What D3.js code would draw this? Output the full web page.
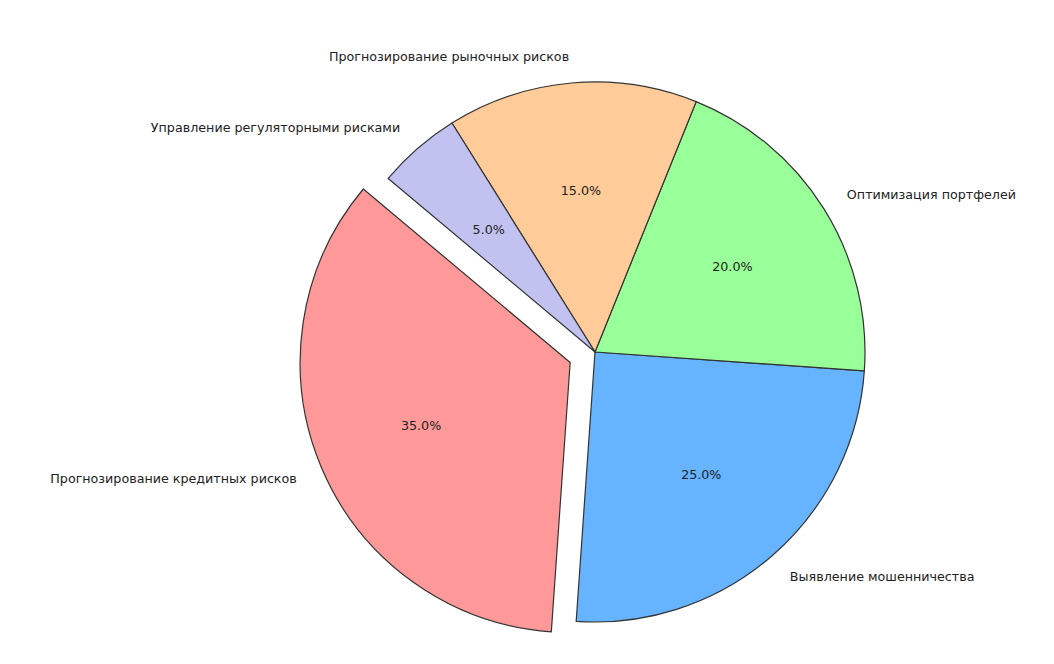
<!DOCTYPE html>
<html>
<head>
<meta charset="utf-8">
<script src="https://cdn.jsdelivr.net/npm/d3@7"></script>
<style>
  html, body { margin: 0; padding: 0; background: #ffffff; }
  svg { display: block; }
  text { font-family: "DejaVu Sans", sans-serif; }
</style>
</head>
<body>
<svg id="chart" width="1054" height="664"></svg>
<script>
const categories = [
  "Прогнозирование кредитных рисков",
  "Выявление мошенничества",
  "Оптимизация портфелей",
  "Прогнозирование рыночных рисков",
  "Управление регуляторными рисками"
];
const values = [35, 25, 20, 15, 5];
const colors = ["#ff9999", "#66b3ff", "#99ff99", "#ffcc99", "#c2c2f0"];
const explode = [0.1, 0, 0, 0, 0];
const startAngleDeg = 140; // matplotlib-style, counter-clockwise from +x

const width = 1054, height = 664;
const cx = 595, cy = 352, R = 270;
const fontSize = 12.7;

const svg = d3.select("#chart");
svg.append("rect").attr("width", width).attr("height", height).attr("fill", "#ffffff");

const toD3 = deg => (90 - deg) * Math.PI / 180;
const pie = d3.pie()
  .sort(null)
  .value(d => d)
  .startAngle(toD3(startAngleDeg))
  .endAngle(toD3(startAngleDeg) - 2 * Math.PI);

const arcs = pie(values);
const arc = d3.arc().innerRadius(0).outerRadius(R);
const total = d3.sum(values);

const g = svg.append("g").attr("transform", `translate(${cx},${cy})`);

arcs.forEach((a, i) => {
  const mid = (a.startAngle + a.endAngle) / 2;
  const ux = Math.sin(mid), uy = -Math.cos(mid);
  const ox = explode[i] * R * ux, oy = explode[i] * R * uy;
  const sg = g.append("g").attr("transform", `translate(${ox},${oy})`);
  sg.append("path")
    .attr("d", arc(a))
    .attr("fill", colors[i])
    .attr("stroke", "#333333")
    .attr("stroke-width", 1.2)
    .attr("stroke-linejoin", "round");
  const lx = 1.1 * R * ux, ly = 1.1 * R * uy;
  sg.append("text")
    .attr("x", lx).attr("y", ly)
    .attr("text-anchor", lx < 0 ? "end" : "start")
    .attr("dominant-baseline", "central")
    .attr("font-size", fontSize)
    .attr("fill", "#222222")
    .text(categories[i]);
  sg.append("text")
    .attr("x", 0.6 * R * ux).attr("y", 0.6 * R * uy)
    .attr("text-anchor", "middle")
    .attr("dominant-baseline", "central")
    .attr("font-size", fontSize)
    .attr("fill", "#222222")
    .text((values[i] / total * 100).toFixed(1) + "%");
});
</script>
</body>
</html>
